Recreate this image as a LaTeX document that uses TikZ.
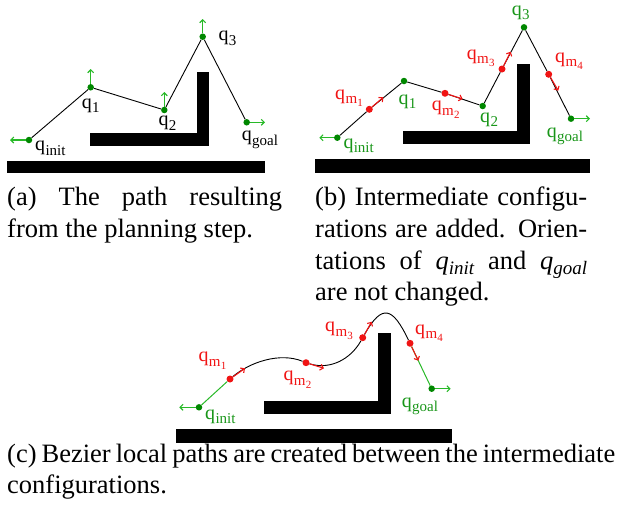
\documentclass[tikz,border=0pt]{standalone}
\usepackage{fontspec}
\setmainfont{Liberation Serif}
\usetikzlibrary{arrows.meta}
\definecolor{dotg}{RGB}{0,135,0}
\definecolor{arrg}{RGB}{40,185,40}
\definecolor{labg}{RGB}{25,150,25}
\definecolor{myred}{RGB}{240,20,20}
\newcommand{\qsub}[1]{q\kern0.3pt\raisebox{-4.5pt}{\fontsize{15}{15}\selectfont #1}}
\newcommand{\qmsub}[1]{q\kern0.3pt\raisebox{-4.5pt}{\fontsize{15}{15}\selectfont m\kern0.3pt\raisebox{-3pt}{\fontsize{11}{11}\selectfont #1}}}
\newcommand{\iqsub}[1]{\textit{q}\raisebox{-5pt}{\fontsize{19}{19}\selectfont\itshape #1}}
\begin{document}
\begin{tikzpicture}[x=1pt,y=-1pt,
  lab/.style={anchor=base west, inner sep=0pt, font=\fontsize{20}{20}\selectfont},
  captxt/.style={anchor=base west, inner sep=0pt, font=\fontsize{26.5}{32}\selectfont},
  gdot/.style={circle, fill=dotg, inner sep=0pt, minimum size=6.5pt},
  rdot/.style={circle, fill=myred, inner sep=0pt, minimum size=7pt},
  garr/.style={draw=arrg, line width=1.1pt, -{Straight Barb[length=3pt,width=6pt]}},
  rarr/.style={draw=myred, line width=1.1pt, -{Straight Barb[length=3pt,width=6pt]}},
  seg/.style={draw=black, line width=0.9pt},
  gseg/.style={draw=arrg, line width=1pt},
  bar/.style={fill=black}]
\useasboundingbox (0,0) rectangle (622,509);

% ---------- (a) ----------
\fill[bar] (7,160.7) rectangle (265,172.7);
\fill[bar] (90,133) rectangle (209,145.7);
\fill[bar] (196.7,71.7) rectangle (209,145.7);
\node[gdot] (a0) at (29,140) {};
\node[gdot] (a1) at (90.7,87.3) {};
\node[gdot] (a2) at (164.3,110) {};
\node[gdot] (a3) at (202.7,36.7) {};
\node[gdot] (a4) at (246.7,122.3) {};
\coordinate (a0e) at (10,140);
\coordinate (a1e) at (90.7,69);
\coordinate (a2e) at (164.3,92);
\coordinate (a3e) at (202.7,19);
\coordinate (a4e) at (265,122.3);
\draw[seg] (a0) -- (a1) -- (a2) -- (a3) -- (a4);
\draw[garr] (a0) -- (a0e);
\draw[garr] (a1) -- (a1e);
\draw[garr] (a2) -- (a2e);
\draw[garr] (a3) -- (a3e);
\draw[garr] (a4) -- (a4e);
\node[lab] (la0) at (35,150.7) {\qsub{init}};
\node[lab] (la1) at (81.7,108) {\qsub{1}};
\node[lab] (la2) at (158.3,125.7) {\qsub{2}};
\node[lab] (la3) at (218.3,40.7) {\qsub{3}};
\node[lab] (la4) at (241.7,140.7) {\qsub{goal}};

% ---------- (b) ----------
\fill[bar] (315,159.3) rectangle (590,172.7);
\fill[bar] (403.3,131) rectangle (530,144.3);
\fill[bar] (517.3,64.3) rectangle (530,144.3);
\node[gdot] (b0) at (337.3,137.7) {};
\node[rdot] (bm1) at (369.3,109.3) {};
\node[gdot] (b1) at (404,81) {};
\node[rdot] (bm2) at (445,93.3) {};
\node[gdot] (b2) at (482.7,106) {};
\node[rdot] (bm3) at (502,69) {};
\node[gdot] (b3) at (524,27.3) {};
\node[rdot] (bm4) at (548.7,74.3) {};
\node[gdot] (b4) at (571,118.7) {};
\coordinate (b0e) at (319.3,137.7);
\coordinate (bm1e) at (383.3,97.3);
\coordinate (bm2e) at (462.7,99);
\coordinate (bm3e) at (510.7,51.7);
\coordinate (bm4e) at (558.3,90.7);
\coordinate (b4e) at (590,118.7);
\draw[seg] (b0) -- (bm1) -- (b1) -- (bm2) -- (b2) -- (bm3) -- (b3) -- (bm4) -- (b4);
\draw[garr] (b0) -- (b0e);
\draw[garr] (b4) -- (b4e);
\draw[rarr] (bm1) -- (bm1e);
\draw[rarr] (bm2) -- (bm2e);
\draw[rarr] (bm3) -- (bm3e);
\draw[rarr] (bm4) -- (bm4e);
\node[lab, text=labg] (lb0) at (343.3,148.3) {\qsub{init}};
\node[lab, text=myred] (lbm1) at (335,99) {\qmsub{1}};
\node[lab, text=labg] (lb1) at (398.3,104) {\qsub{1}};
\node[lab, text=myred] (lbm2) at (431.7,110.7) {\qmsub{2}};
\node[lab, text=labg] (lb2) at (480,122.3) {\qsub{2}};
\node[lab, text=myred] (lbm3) at (466.7,59) {\qmsub{3}};
\node[lab, text=labg] (lb3) at (511.7,15) {\qsub{3}};
\node[lab, text=myred] (lbm4) at (555,62.3) {\qmsub{4}};
\node[lab, text=labg] (lb4) at (546.7,137.3) {\qsub{goal}};

% ---------- (c) ----------
\fill[bar] (176,429.3) rectangle (451.7,442.7);
\fill[bar] (264,400.7) rectangle (390.7,414);
\fill[bar] (378.3,333.3) rectangle (390.7,414);
\node[gdot] (c0) at (199,407.3) {};
\node[rdot] (cm1) at (230,379) {};
\node[rdot] (cm2) at (306,362.7) {};
\node[rdot] (cm3) at (362.7,337.7) {};
\node[rdot] (cm4) at (410,343.3) {};
\node[gdot] (c4) at (431.7,388.7) {};
\coordinate (c0e) at (179.3,407.3);
\coordinate (cm1e) at (245,368.3);
\coordinate (cm2e) at (324,368.3);
\coordinate (cm3e) at (371.7,321.7);
\coordinate (cm4e) at (418.3,360.7);
\coordinate (c4e) at (450.7,388.7);
\draw[gseg] (c0) -- (cm1);
\draw[gseg] (cm4) -- (c4);
\draw[seg] (cm1) .. controls (250,362) and (280,352) .. (cm2)
  .. controls (329.9,370.1) and (350.4,359.5) .. (cm3)
  .. controls (382.3,302.9) and (392.8,307.3) .. (cm4);
\draw[garr] (c0) -- (c0e);
\draw[garr] (c4) -- (c4e);
\draw[rarr] (cm1) -- (cm1e);
\draw[rarr] (cm2) -- (cm2e);
\draw[rarr] (cm3) -- (cm3e);
\draw[rarr] (cm4) -- (cm4e);
\node[lab, text=labg] (lc0) at (205,419) {\qsub{init}};
\node[lab, text=myred] (lcm1) at (198.3,361.7) {\qmsub{1}};
\node[lab, text=myred] (lcm2) at (283.3,380.7) {\qmsub{2}};
\node[lab, text=myred] (lcm3) at (325,331.7) {\qmsub{3}};
\node[lab, text=myred] (lcm4) at (415,334) {\qmsub{4}};
\node[lab, text=labg] (lc4) at (401.7,407.3) {\qsub{goal}};

% ---------- captions ----------
\node[captxt] (ca1) at (7,205) {\makebox[275pt][s]{(a) The path resulting}};
\node[captxt] (ca2) at (7,237) {from the planning step.};
\node[captxt] (cb1) at (315,205) {\makebox[272pt][s]{(b) Intermediate configu-}};
\node[captxt] (cb2) at (315,237) {\makebox[272pt][s]{rations are added. Orien-}};
\node[captxt] (cb3) at (315,269) {\makebox[272pt][s]{tations of \iqsub{init} and \iqsub{goal}}};
\node[captxt] (cb4) at (315,300) {are not changed.};
\node[captxt] (cc1) at (7,462) {\makebox[608pt][s]{(c) Bezier local paths are created between the intermediate}};
\node[captxt] (cc2) at (7,493) {configurations.};
\end{tikzpicture}
\end{document}
